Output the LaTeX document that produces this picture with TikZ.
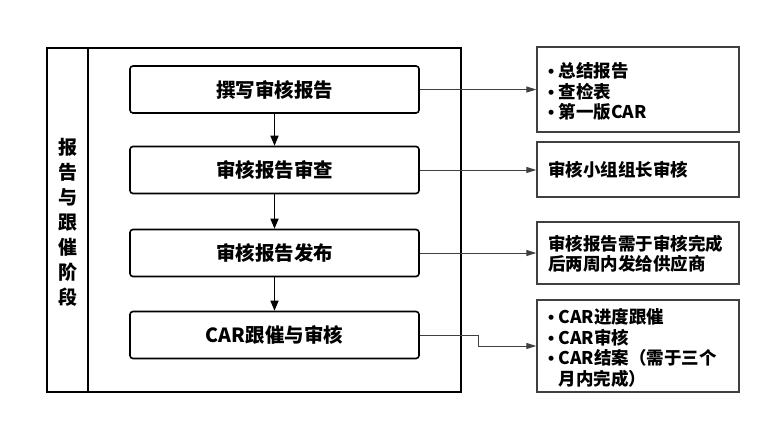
\documentclass[tikz,border=0pt]{standalone}
\usepackage{fontspec}
\setmainfont{Noto Sans CJK SC}
\newfontfamily\bulfont{Liberation Sans}
\newcommand{\mybul}{{\bulfont\bfseries •}\hspace{0.25em}}
\usetikzlibrary{arrows.meta}
\definecolor{lgray}{HTML}{404040}
\begin{document}
\begin{tikzpicture}[x=1pt,y=-1pt,
  mainbox/.style={draw=black,line width=1.6pt,rounded corners=3pt,minimum width=289pt,minimum height=47pt,inner sep=0pt,font=\fontsize{19.5}{22}\selectfont\bfseries},
  sidebox/.style={draw=lgray,line width=1.4pt,minimum width=202pt,inner sep=0pt},
  sidetext/.style={anchor=west,inner sep=0pt,align=left,font=\fontsize{17.5}{20.5}\selectfont\bfseries},
  conn/.style={draw=lgray,line width=1pt,-{Triangle[length=10pt,width=6pt]}},
  down/.style={draw=black,line width=1.4pt,-{Triangle[length=10pt,width=8pt]}}]
\useasboundingbox (0,0) rectangle (771,425);
% outer frame
\draw[line width=2pt] (47,48) rectangle (461,392);
\draw[line width=2pt] (88,48) -- (88,392);
\node[font=\fontsize{19}{25}\selectfont\bfseries,align=center,inner sep=0pt] (lbl) at (68,222) {报\\告\\与\\跟\\催\\阶\\段};
% main boxes
\node[mainbox] (b1) at (274.5,89.5) {撰写审核报告};
\node[mainbox] (b2) at (274.5,170) {审核报告审查};
\node[mainbox] (b3) at (274.5,253) {审核报告发布};
\node[mainbox] (b4) at (274.5,335) {CAR跟催与审核};
\draw[down] (b1) -- (b2);
\draw[down] (b2) -- (b3);
\draw[down] (b3) -- (b4);
% side boxes
\node[sidebox,minimum height=85pt] (s1) at (638,89.5) {};
\node[sidetext] (t1) at (548,91.5) {\mybul 总结报告\\\mybul 查检表\\\mybul 第一版CAR};
\node[sidebox,minimum height=55pt] (s2) at (638,169.5) {};
\node[sidetext] (t2) at (548,170) {审核小组组长审核};
\node[sidebox,minimum height=62pt] (s3) at (638,253) {};
\node[sidetext] (t3) at (548,254) {审核报告需于审核完成\\后两周内发给供应商};
\node[sidebox,minimum height=92pt] (s4) at (638,346) {};
\node[sidetext] (t4) at (548,348) {\mybul CAR进度跟催\\\mybul CAR审核\\\mybul CAR结案（需于三个\\\hphantom{\mybul}月内完成）};
% connectors
\draw[conn] (b1.east) -- (s1.west |- b1.east);
\draw[conn] (b2.east) -- (s2.west |- b2.east);
\draw[conn] (b3.east) -- (s3.west |- b3.east);
\coordinate (k1) at (478,335);
\coordinate (k2) at (478,346);
\draw[conn] (b4.east) -- (k1) -- (k2) -- (s4.west);
\end{tikzpicture}
\end{document}
